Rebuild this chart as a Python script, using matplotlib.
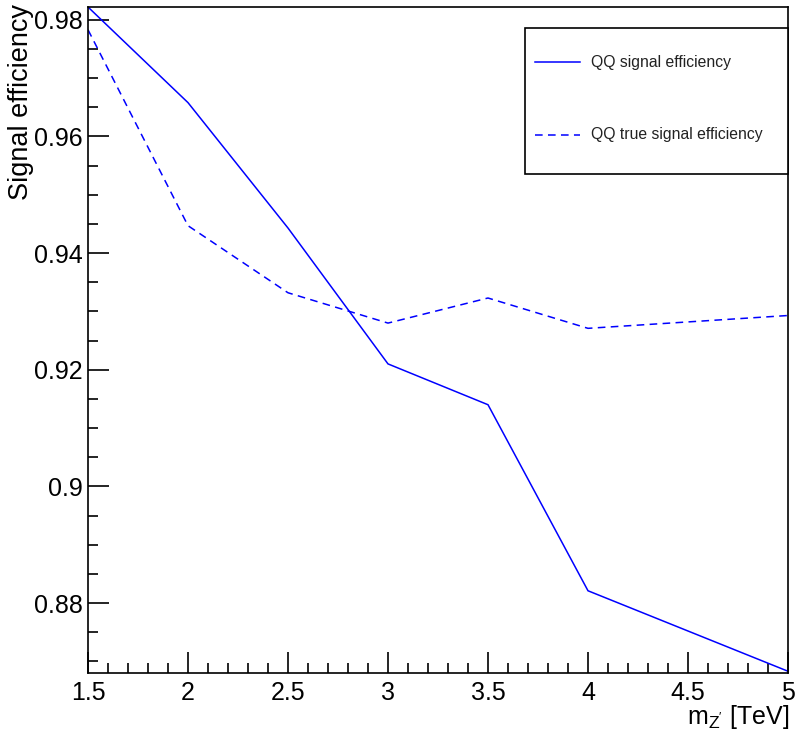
import matplotlib
matplotlib.use("Agg")
import matplotlib.pyplot as plt
from matplotlib.ticker import MultipleLocator, FixedLocator
from matplotlib.patches import Rectangle
from matplotlib.lines import Line2D

plt.rcParams['font.family'] = ['Liberation Sans', 'DejaVu Sans']
plt.rcParams['mathtext.fontset'] = 'custom'
plt.rcParams['mathtext.rm'] = 'Liberation Sans'
plt.rcParams['mathtext.it'] = 'Liberation Sans:italic'

# Z' mass points [TeV]
mass = [1.5, 2.0, 2.5, 3.0, 3.5, 4.0, 4.5, 5.0]
# QQ signal efficiency
sig_eff = [0.9822, 0.9658, 0.9443, 0.9210, 0.9140, 0.8821, 0.8752, 0.8683]
# QQ true signal efficiency
true_sig_eff = [0.9783, 0.9447, 0.9332, 0.9280, 0.9323, 0.9271, 0.9282, 0.9293]

labels = ["QQ signal efficiency", "QQ true signal efficiency"]
x_ticks = [1.5, 2, 2.5, 3, 3.5, 4, 4.5, 5]
x_ticklabels = ["1.5", "2", "2.5", "3", "3.5", "4", "4.5", "5"]
y_ticks = [0.88, 0.90, 0.92, 0.94, 0.96, 0.98]
y_ticklabels = ["0.88", "0.9", "0.92", "0.94", "0.96", "0.98"]

W, H = 798, 733
fig = plt.figure(figsize=(W / 100, H / 100), dpi=100)
ax = fig.add_axes([88 / W, (H - 673) / H, 700 / W, 666 / H])

blue = (0, 0, 1)
ax.plot(mass, sig_eff, color=blue, lw=1.1, solid_joinstyle='miter')
ax.plot(mass, true_sig_eff, color=blue, lw=1.1, dashes=(5, 3.5))

ax.set_xlim(1.5, 5.0)
ax.set_ylim(0.8680, 0.9822)

ax.xaxis.set_major_locator(FixedLocator(x_ticks))
ax.set_xticklabels(x_ticklabels)
ax.xaxis.set_minor_locator(MultipleLocator(0.1))
ax.yaxis.set_major_locator(FixedLocator(y_ticks))
ax.set_yticklabels(y_ticklabels)
ax.yaxis.set_minor_locator(MultipleLocator(0.005))

ax.tick_params(which='both', direction='in', top=False, right=False, width=1.2, color='black')
ax.tick_params(which='major', length=15)
ax.tick_params(which='minor', length=7.5)
ax.tick_params(axis='x', which='major', pad=6, labelsize=18)
ax.tick_params(axis='y', which='major', pad=4, labelsize=18)
for s in ax.spines.values():
    s.set_linewidth(1.2)

fig.text(8 / W, 1 - 4 / H, "Signal efficiency", rotation=90, ha='left', va='top', fontsize=19.5)
fig.text(789 / W, 1 - 717 / H, r"$\mathregular{m_{Z'}}$ [TeV]", ha='right', va='center', fontsize=18)

# legend box
x0 = (525 - 88) / 700
y_top = (673 - 28) / 666
y_bot = (673 - 174) / 666
ax.add_patch(Rectangle((x0, y_bot), 1.0 - x0, y_top - y_bot, transform=ax.transAxes,
                       facecolor='white', edgecolor='black', lw=1.2, zorder=5, clip_on=False))
entry_y = [(673 - 62) / 666, (673 - 135) / 666]
styles = [dict(), dict(dashes=(5, 3.5))]
for yy, lab, st in zip(entry_y, labels, styles):
    ax.add_line(Line2D([(535 - 88) / 700, (580 - 88) / 700], [yy, yy], transform=ax.transAxes,
                       color=blue, lw=1.1, zorder=6, **st))
    ax.text((591 - 88) / 700, yy, lab, transform=ax.transAxes, ha='left', va='center',
            fontsize=11.3, color='#222222', zorder=6)

fig.savefig("out.png", dpi=100)
